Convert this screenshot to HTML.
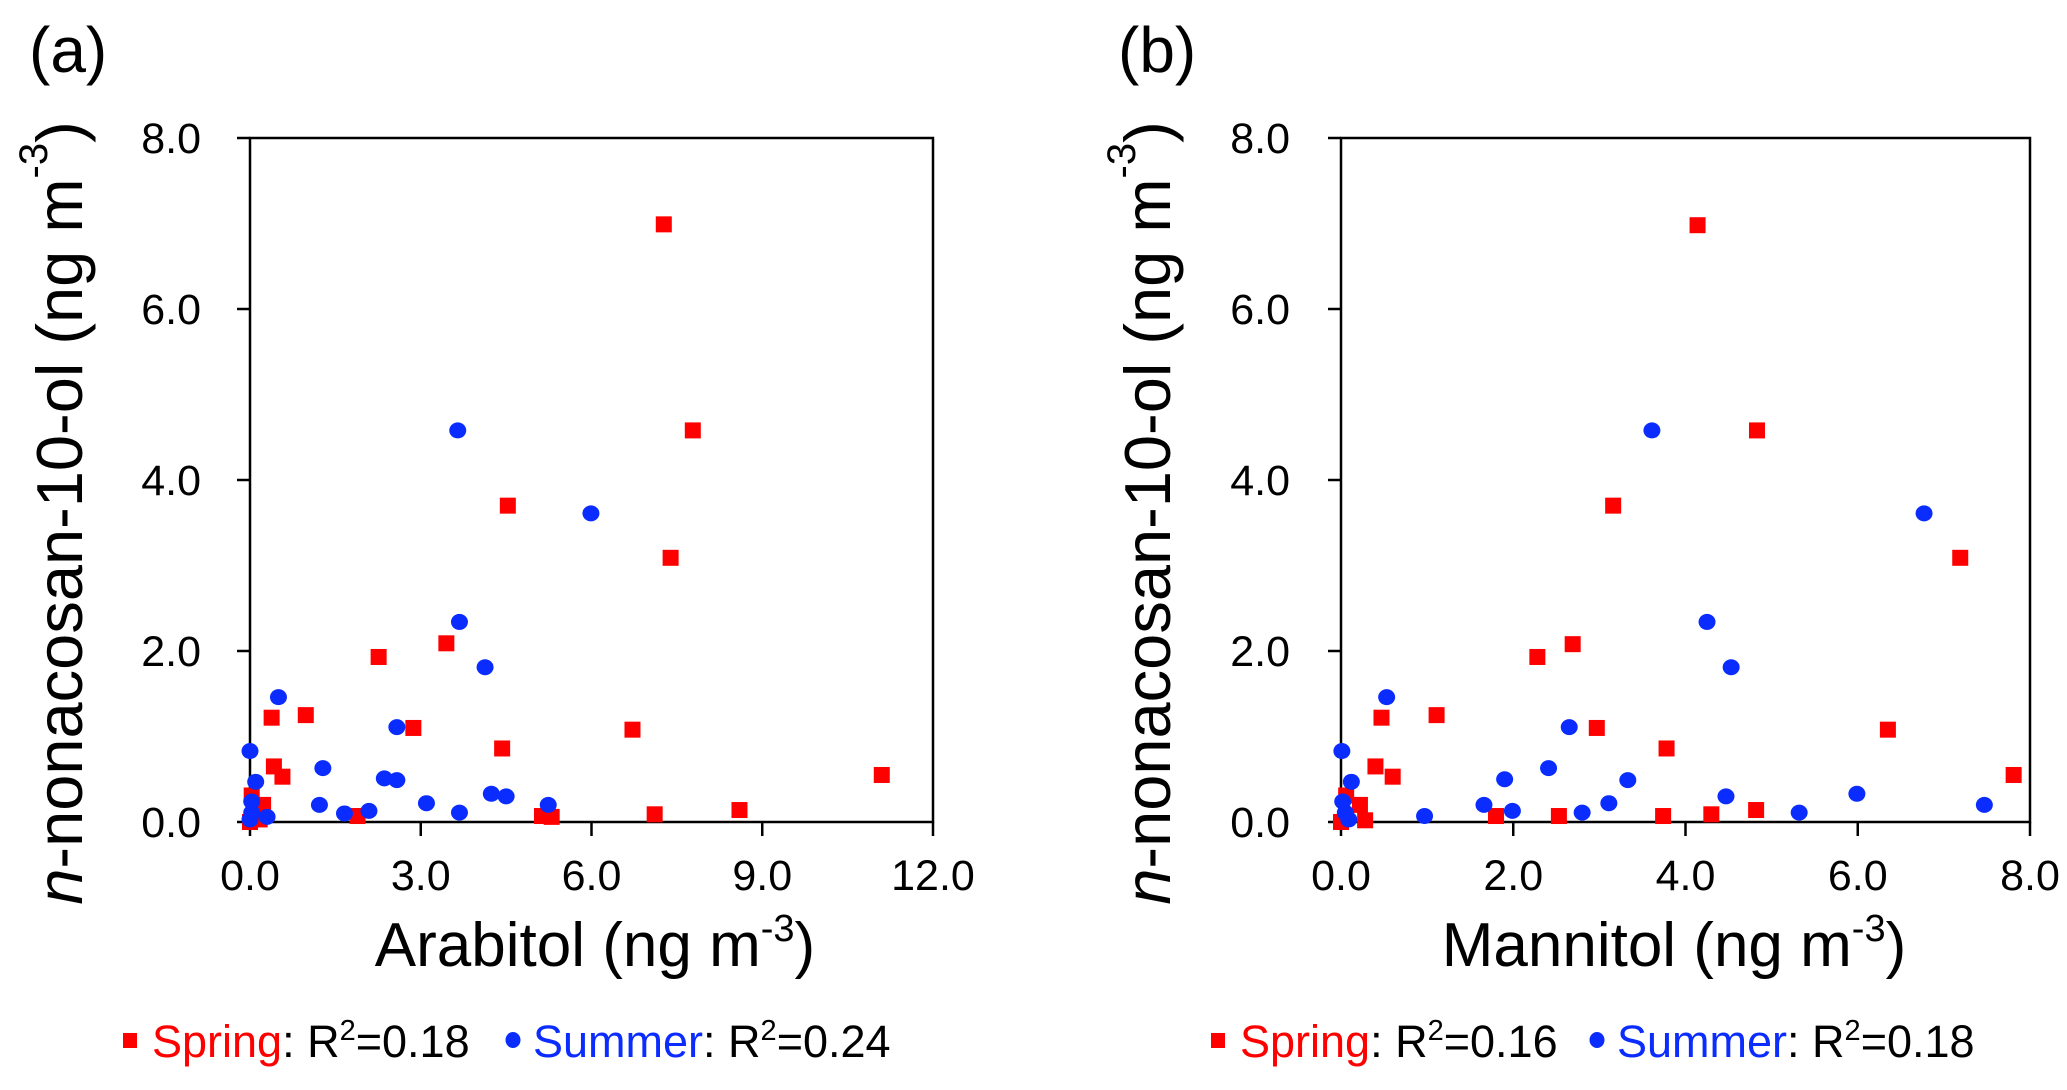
<!DOCTYPE html>
<html><head><meta charset="utf-8"><style>
html,body{margin:0;padding:0;background:#fff;}
svg{display:block;font-family:"Liberation Sans",Arial,sans-serif;}
</style></head><body>
<svg id="fig" width="2067" height="1090" viewBox="0 0 2067 1090"></svg>
<script>
// Panel (a): Arabitol
const aSpringX=[7.27,7.78,4.53,7.39,3.45,2.26,0.98,0.38,2.87,6.72,4.43,0.42,0.57,11.10,8.60,7.11,5.13,5.30,1.89,0.03,0.23,0.17,0.0];
const aSpringY=[6.99,4.58,3.70,3.09,2.09,1.93,1.25,1.22,1.10,1.08,0.86,0.65,0.53,0.55,0.14,0.09,0.07,0.06,0.07,0.31,0.20,0.03,0.0];
const aSummerX=[3.65,5.99,3.68,4.13,0.50,2.58,0.0,1.28,0.10,2.36,2.58,4.24,4.50,1.22,3.10,5.24,2.09,1.66,3.68,0.30,0.03,0.03,0.0];
const aSummerY=[4.58,3.61,2.34,1.81,1.46,1.11,0.83,0.63,0.47,0.51,0.49,0.33,0.30,0.20,0.22,0.20,0.13,0.10,0.11,0.06,0.24,0.11,0.03];
const aXTicks=["0.0","3.0","6.0","9.0","12.0"];
// Panel (b): Mannitol
const bSpringX=[4.14,4.83,3.16,7.19,2.69,2.28,1.11,0.47,2.97,6.35,3.78,0.40,0.60,7.81,4.82,4.30,3.74,2.53,1.80,0.06,0.22,0.28,0.0];
const bSpringY=[6.98,4.58,3.70,3.09,2.08,1.93,1.25,1.22,1.10,1.08,0.86,0.65,0.53,0.55,0.14,0.09,0.07,0.07,0.07,0.31,0.20,0.02,0.0];
const bSummerX=[3.61,6.77,4.25,4.53,0.53,2.65,0.01,2.41,0.12,1.90,3.33,5.99,4.47,1.66,3.11,7.47,1.99,0.97,2.80,5.32,0.02,0.05,0.09];
const bSummerY=[4.58,3.61,2.34,1.81,1.46,1.11,0.83,0.63,0.47,0.50,0.49,0.33,0.30,0.20,0.22,0.20,0.13,0.07,0.11,0.11,0.24,0.11,0.03];
const bXTicks=["0.0","2.0","4.0","6.0","8.0"];
const yTicks=["0.0","2.0","4.0","6.0","8.0"];

const NS="http://www.w3.org/2000/svg";
const svg=document.getElementById('fig');
function mk(tag,attrs,parent,text){const e=document.createElementNS(NS,tag);for(const k in attrs)e.setAttribute(k,attrs[k]);if(text!==undefined)e.textContent=text;(parent||svg).appendChild(e);return e;}

function panel(p){
  const g=mk('g',{});
  
  
  const L=p.left,R=p.right,T=138,B=822;
  const xmax=parseFloat(p.xt[p.xt.length-1]),ymax=8;
  const sx=v=>L+v/xmax*(R-L), sy=v=>B-v/ymax*(B-T);
  const lab=mk('text',{x:p.labX,y:72,'font-size':64,fill:'#000'},g,'('+p.id+')');
  
  
  const frame=mk('rect',{x:L,y:T,width:R-L,height:B-T,fill:'none',stroke:'#000','stroke-width':2.5},g);
  
  
  p.xt.forEach(t=>{const v=parseFloat(t),x=sx(v);
    mk('line',{x1:x,x2:x,y1:B,y2:B+14,stroke:'#000','stroke-width':2.5},g);
    const tx=mk('text',{x:x,y:890,'font-size':43,'text-anchor':'middle'},g,t);
    
    });
  yTicks.forEach(t=>{const v=parseFloat(t),y=sy(v);
    mk('line',{x1:L-13,x2:L,y1:y,y2:y,stroke:'#000','stroke-width':2.5},g);
    const tx=mk('text',{x:p.yLabR,y:y+15,'font-size':43,'text-anchor':'end'},g,t);
    
    });
  const xt=mk('text',{x:p.xtX,y:966,'font-size':62,'text-anchor':'middle'},g);
  
  
  mk('tspan',{},xt,p.xname+' (ng m');
  mk('tspan',{'font-size':38,dy:-25},xt,'-3');
  mk('tspan',{dy:25},xt,')');
  const yt=mk('text',{x:0,y:0,'font-size':65,'text-anchor':'middle','dominant-baseline':'central',transform:'translate('+p.ytX+',513) rotate(-90)'},g);
  
  
  mk('tspan',{'font-style':'italic'},yt,'n');
  mk('tspan',{},yt,'-nonacosan-10-ol (ng m');
  mk('tspan',{'font-size':40,dy:-25},yt,'-3');
  mk('tspan',{dy:25},yt,')');
  p.spX.forEach((v,i)=>{const r=mk('rect',{x:sx(v)-8,y:sy(p.spY[i])-8,width:16,height:16,fill:'#ff0000'},g);
    
    });
  p.suX.forEach((v,i)=>{const c=mk('ellipse',{cx:sx(v),cy:sy(p.suY[i]),rx:8.5,ry:8,fill:'#0a2cff'},g);
    
    });
  const lg=mk('g',{},g);
  
  
  mk('rect',{x:p.lgSq-7,y:1033,width:14,height:15,fill:'#ff0000'},lg);
  const t1=mk('text',{x:p.lgSq+22,y:1057,'font-size':45},lg);
  
  
  mk('tspan',{fill:'#ff0000'},t1,'Spring');
  mk('tspan',{},t1,': R');
  mk('tspan',{'font-size':29,dy:-17},t1,'2');
  mk('tspan',{dy:17},t1,'='+p.r2a);
  mk('ellipse',{cx:p.lgCi,cy:1040,rx:7.5,ry:8,fill:'#0a2cff'},lg);
  const t2=mk('text',{x:p.lgCi+20,y:1057,'font-size':45},lg);
  
  
  mk('tspan',{fill:'#0a2cff'},t2,'Summer');
  mk('tspan',{},t2,': R');
  mk('tspan',{'font-size':29,dy:-17},t2,'2');
  mk('tspan',{dy:17},t2,'='+p.r2b);
}
panel({id:'a',left:250,right:933,labX:29,yLabR:201,ytX:59,xtX:595,xname:'Arabitol',xt:aXTicks,
  spX:aSpringX,spY:aSpringY,suX:aSummerX,suY:aSummerY,lgSq:130,lgCi:513,r2a:'0.18',r2b:'0.24'});
panel({id:'b',left:1341,right:2030,labX:1118,yLabR:1290,ytX:1147,xtX:1674,xname:'Mannitol',xt:bXTicks,
  spX:bSpringX,spY:bSpringY,suX:bSummerX,suY:bSummerY,lgSq:1218,lgCi:1597,r2a:'0.16',r2b:'0.18'});
</script>
</body></html>
